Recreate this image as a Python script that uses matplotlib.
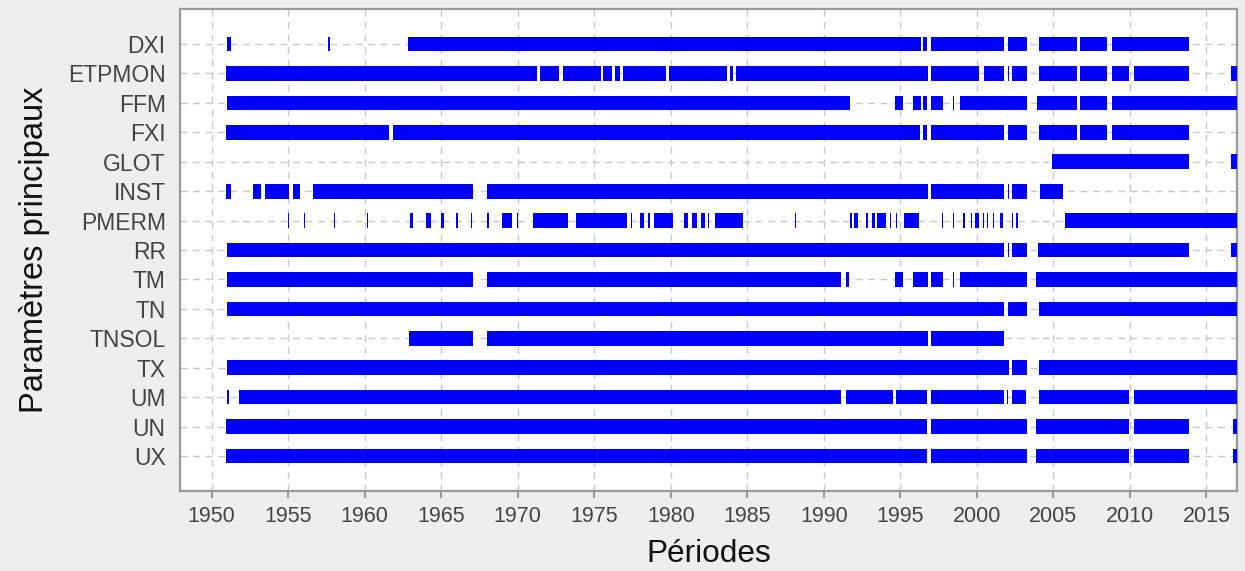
import matplotlib
matplotlib.use("Agg")
import matplotlib.pyplot as plt

params = ["DXI", "ETPMON", "FFM", "FXI", "GLOT", "INST", "PMERM", "RR",
          "TM", "TN", "TNSOL", "TX", "UM", "UN", "UX"]

DXI = [(1951.0, 1951.28), (1957.62, 1957.75), (1962.85, 1996.33), (1996.46, 1996.73),
       (1996.98, 2001.78), (2002.02, 2003.27), (2004.04, 2006.54), (2006.73, 2008.50),
       (2008.81, 2013.86)]
ETPMON = [(1950.95, 1971.26), (1971.46, 1972.70), (1972.96, 1975.43), (1975.57, 1976.17),
          (1976.36, 1976.69), (1976.89, 1979.70), (1979.90, 1983.68), (1983.86, 1984.07),
          (1984.24, 1996.81), (1996.98, 2000.14), (2000.46, 2001.78), (2002.02, 2002.09),
          (2002.30, 2003.27), (2004.04, 2006.54), (2006.73, 2008.50), (2008.81, 2009.93),
          (2010.27, 2013.86), (2016.60, 2017.0)]
FFM = [(1951.0, 1991.70), (1994.64, 1995.17), (1995.83, 1996.33), (1996.46, 1996.73),
       (1996.98, 1997.78), (1998.44, 1998.53), (1998.89, 2003.27), (2003.91, 2006.54),
       (2006.73, 2008.50), (2008.81, 2017.0)]
FXI = [(1950.95, 1961.59), (1961.86, 1996.28), (1996.46, 1996.73), (1996.98, 2001.78),
       (2002.02, 2003.27), (2004.04, 2006.54), (2006.73, 2008.50), (2008.81, 2013.86)]
GLOT = [(2004.90, 2013.86), (2016.60, 2017.0)]
INST = [(1950.95, 1951.28), (1952.71, 1953.24), (1953.49, 1955.05), (1955.32, 1955.78),
        (1956.62, 1967.06), (1967.99, 1996.80), (1996.98, 2001.77), (2002.02, 2002.09),
        (2002.29, 2003.27), (2004.11, 2005.61)]
PMERM = [(1954.98, 1955.04), (1956.04, 1956.10), (1958.00, 1958.06), (1960.14, 1960.20),
         (1962.96, 1963.16), (1964.02, 1964.35), (1964.99, 1965.19), (1965.98, 1966.09),
         (1966.95, 1967.02), (1967.99, 1968.12), (1968.98, 1969.62), (1969.96, 1970.02),
         (1970.99, 1973.29), (1973.82, 1977.13), (1977.40, 1977.46), (1977.99, 1978.26),
         (1978.52, 1978.61), (1978.90, 1980.13), (1980.86, 1981.13), (1981.39, 1981.70),
         (1981.97, 1982.23), (1982.41, 1982.50), (1982.88, 1984.72), (1988.12, 1988.18),
         (1991.69, 1991.83), (1991.96, 1992.21), (1992.76, 1992.87), (1993.15, 1993.35),
         (1993.46, 1994.05), (1994.32, 1994.38), (1994.71, 1994.78), (1995.23, 1996.21),
         (1997.71, 1997.78), (1998.43, 1998.50), (1999.09, 1999.21), (1999.59, 1999.68),
         (1999.86, 2000.14), (2000.39, 2000.48), (2000.66, 2000.73), (2001.05, 2001.14),
         (2001.54, 2001.70), (2002.27, 2002.34), (2002.54, 2002.66), (2005.74, 2017.0)]
RR = [(1951.0, 2001.77), (2002.02, 2002.09), (2002.29, 2003.27), (2003.97, 2013.85),
      (2016.60, 2017.0)]
TM = [(1951.0, 1967.06), (1967.99, 1991.12), (1991.44, 1991.62), (1994.64, 1995.17),
      (1995.82, 1996.80), (1996.98, 1997.78), (1998.43, 1998.53), (1998.89, 2003.27),
      (2003.86, 2017.0)]
TN = [(1951.0, 2001.77), (2002.02, 2003.27), (2004.04, 2017.0)]
TNSOL = [(1962.89, 1967.06), (1967.99, 1996.80), (1996.98, 2001.77)]
TX = [(1951.0, 2002.09), (2002.29, 2003.27), (2004.04, 2017.0)]
UM = [(1951.0, 1951.14), (1951.81, 1991.12), (1991.44, 1994.51), (1994.71, 1996.73),
      (1996.98, 2001.77), (2001.95, 2002.02), (2002.29, 2003.20), (2004.04, 2009.92),
      (2010.26, 2017.0)]
UN = [(1950.95, 1996.73), (1996.98, 2003.27), (2003.86, 2009.92), (2010.26, 2013.85),
      (2016.71, 2017.0)]
UX = [(1950.95, 1996.73), (1996.98, 2003.27), (2003.86, 2009.92), (2010.26, 2013.85),
      (2016.71, 2017.0)]

segments = [DXI, ETPMON, FFM, FXI, GLOT, INST, PMERM, RR, TM, TN, TNSOL, TX, UM, UN, UX]
xticks = list(range(1950, 2016, 5))

plt.rcParams['font.family'] = ['Liberation Sans', 'DejaVu Sans']

fig = plt.figure(figsize=(12.45, 5.71), dpi=100, facecolor='#eeeeee')
ax = fig.add_axes([0.1442, 0.1406, 0.9936 - 0.1442, 0.9837 - 0.1406])
ax.set_facecolor('white')

bar_h = 0.5
for i, segs in enumerate(segments):
    ax.broken_barh([(s, e - s) for s, e in segs], (i - bar_h / 2, bar_h),
                   facecolors='#0000ff', edgecolor='none', zorder=3)

ax.set_xlim(1947.9, 2017.0)
ax.set_ylim(len(params) - 1 + 1.18, -1.18)
ax.set_yticks(range(len(params)))
ax.set_yticklabels(params)
ax.set_xticks(xticks)
ax.set_xticklabels([str(t) for t in xticks])

ax.grid(True, linestyle=(0, (5, 4)), color='#c8c8c8', linewidth=1.0, zorder=0)
ax.set_axisbelow(True)

for sp in ax.spines.values():
    sp.set_color('#9a9a9a')
    sp.set_linewidth(1.6)

ax.tick_params(axis='x', colors='#9a9a9a', labelcolor='#444444', labelsize=15.5,
               length=5, width=1.5, direction='out', pad=6)
ax.tick_params(axis='y', labelcolor='#444444', labelsize=16.5, length=0, pad=10)

ax.set_xlabel('Périodes', fontsize=22.7, color='#111111', labelpad=9)
ax.set_ylabel('Paramètres principaux', fontsize=23.5, color='#111111', labelpad=13)

fig.savefig('out.png', dpi=100, facecolor=fig.get_facecolor())
